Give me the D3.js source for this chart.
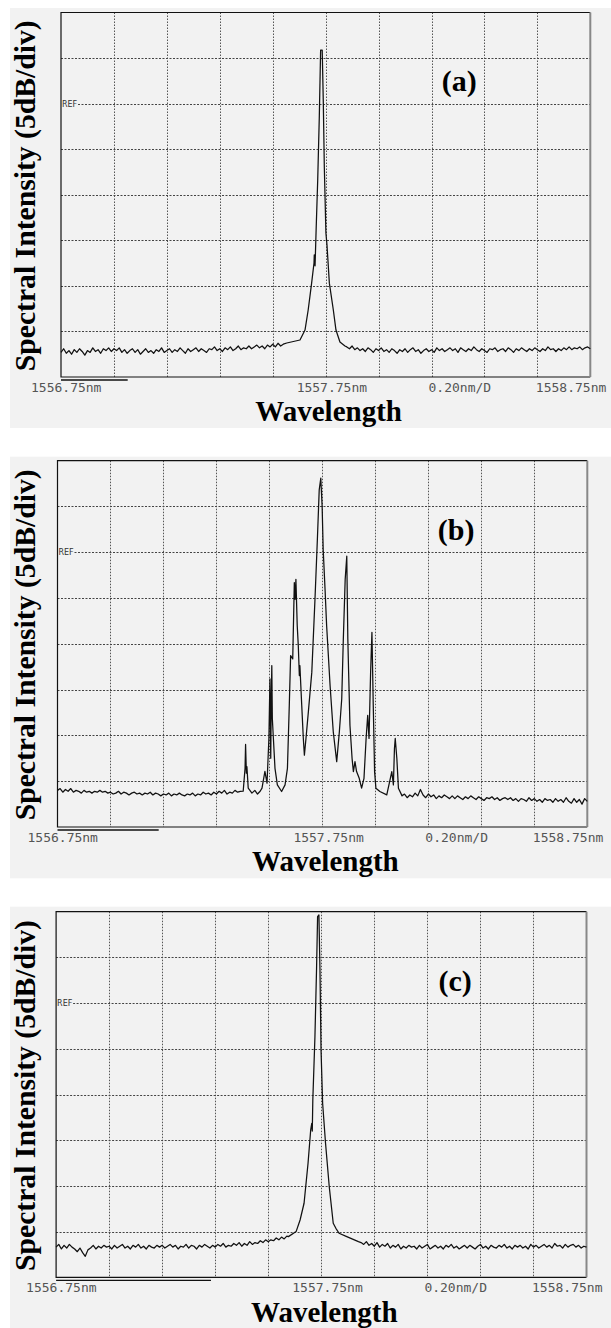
<!DOCTYPE html>
<html>
<head>
<meta charset="utf-8">
<script src="https://cdn.jsdelivr.net/npm/d3@7"></script>
<style>
  body { margin: 0; background: #fff; }
  svg { display: block; }
</style>
</head>
<body>
<div id="chart"></div>
<script>
/* three OSA spectra, stacked (a) (b) (c) */
const width = 611, height = 1328;

// axis setup: 1556.75 -> 1558.75 nm, 0.2 nm/div ; 5 dB/div, REF line = 0 dB
const wlStart = 1556.75, wlEnd = 1558.75, wlDiv = 0.2;
const dbTop = 10, dbBottom = -30, dbDiv = 5;
const panelNames = ["(a)", "(b)", "(c)"];
const xTickLabels = ["1556.75nm", "1557.75nm", "0.20nm/D", "1558.75nm"];
const yLabel = "Spectral Intensity (5dB/div)";
const xLabel = "Wavelength";

// noise floor, sampled every 0.01 nm from 1556.75 (null = covered by the peak trace)
const noiseStep = 0.01;
const aNoise = [
  -27.3,-26.9,-27.4,-27.1,-27.5,-27.0,-27.3,-26.9,-27.2,-27.6,-27.1,-27.3,-26.8,-27.2,-27.0,-27.4,-26.9,-27.1,-26.8,-27.2,
  -26.9,-27.1,-26.8,-27.3,-27.0,-27.4,-27.1,-26.9,-27.3,-27.0,-27.5,-27.2,-26.9,-27.3,-27.1,-27.4,-27.0,-27.2,-26.8,-27.3,
  -27.1,-26.9,-27.3,-27.0,-27.2,-26.8,-27.1,-27.4,-26.9,-27.2,-27.0,-26.8,-27.2,-26.9,-27.1,-27.3,-26.9,-27.0,-26.7,-27.1,
  -26.9,-27.2,-26.8,-27.0,-26.7,-27.1,-26.9,-26.6,-27.0,-26.8,-26.9,-26.6,-26.9,-26.7,-26.5,-26.8,-26.6,-26.9,-26.5,-26.7,
  -26.4,-26.7,-26.3,-26.6,-26.4,
  null,null,null,null,null,null,null,null,null,null,null,null,null,null,null,null,null,null,null,null,null,null,null,
  -26.7,-26.9,-26.6,-27.0,-26.8,-27.1,-26.9,-27.2,-26.8,-27.0,-27.3,-26.9,-27.1,-26.8,-27.2,-27.0,-27.3,-26.9,-27.1,-27.4,
  -27.0,-27.2,-26.9,-27.3,-27.0,-26.8,-27.2,-27.0,-27.4,-27.1,-26.9,-27.2,-27.0,-27.3,-26.8,-27.1,-26.9,-27.2,-27.0,-26.8,
  -27.1,-26.9,-27.3,-26.8,-27.0,-27.2,-26.9,-27.1,-26.7,-27.0,-27.2,-26.9,-27.1,-27.3,-26.9,-27.0,-26.8,-27.2,-27.0,-26.9,
  -27.2,-26.8,-27.0,-27.3,-26.9,-27.1,-26.8,-27.0,-27.2,-26.9,-27.1,-26.8,-27.0,-27.2,-26.9,-27.1,-26.7,-27.0,-26.9,-27.2,
  -26.9,-27.1,-26.8,-27.0,-26.7,-27.0,-26.8,-26.9,-26.7,-27.0,-26.8,-26.7,-26.9
];
const bNoise = [
  -26.0,-25.8,-26.2,-25.9,-26.1,-25.8,-26.2,-26.0,-26.1,-26.3,-26.0,-26.2,-26.1,-26.3,-26.1,-26.2,-26.0,-26.2,-26.1,-26.3,
  -26.2,-26.4,-26.3,-26.1,-26.4,-26.2,-26.3,-26.5,-26.3,-26.2,-26.4,-26.3,-26.5,-26.3,-26.4,-26.2,-26.5,-26.3,-26.4,-26.6,
  -26.4,-26.5,-26.3,-26.6,-26.4,-26.5,-26.3,-26.5,-26.6,-26.4,-26.5,-26.3,-26.6,-26.4,-26.5,-26.2,-26.4,-26.3,-26.5,-26.2,
  -26.4,-26.1,-26.3,-26.0,-26.4,-26.2,-26.3,-26.0,-26.2,-26.1,
  null,null,null,null,null,null,null,null,null,null,null,null,null,null,null,null,null,null,null,null,
  null,null,null,null,null,null,null,null,null,null,null,null,null,null,null,null,null,null,null,null,
  null,null,null,null,null,null,null,null,null,null,null,null,null,null,null,null,null,null,null,null,
  -26.6,-26.4,-26.8,-26.5,-26.7,-26.3,-26.6,-25.9,-26.5,-26.8,-26.4,-26.7,-26.5,-26.9,-26.6,-26.8,-26.5,-26.7,-26.9,-26.6,
  -26.9,-26.6,-26.8,-27.0,-26.7,-26.9,-26.6,-26.8,-27.0,-26.7,-26.9,-27.1,-26.8,-26.9,-26.7,-27.0,-26.8,-27.1,-26.9,-26.8,
  -27.0,-26.8,-27.1,-26.9,-27.2,-26.9,-27.0,-27.2,-26.8,-27.1,-26.9,-27.2,-27.0,-27.3,-26.9,-27.1,-27.0,-27.3,-26.9,-27.2,
  -27.0,-27.3,-26.8,-27.2,-27.4,-26.9,-27.3,-27.0,-27.5,-26.9,-27.2
];
const cNoise = [
  -26.7,-26.4,-26.9,-26.5,-26.8,-26.4,-26.7,-26.9,-27.2,-26.8,-27.3,-27.7,-27.0,-26.8,-26.5,-26.9,-26.6,-26.8,-26.5,-26.7,
  -26.6,-26.9,-26.5,-26.8,-26.6,-26.4,-26.8,-26.6,-26.9,-26.5,-26.7,-26.4,-26.8,-26.6,-26.9,-26.5,-26.7,-26.8,-26.5,-26.7,
  -26.5,-26.8,-26.6,-26.4,-26.7,-26.5,-26.9,-26.6,-26.7,-26.4,-26.8,-26.5,-26.6,-26.9,-26.5,-26.7,-26.4,-26.6,-26.8,-26.5,
  -26.7,-26.4,-26.6,-26.3,-26.7,-26.5,-26.6,-26.3,-26.5,-26.2,-26.6,-26.3,-26.5,-26.1,-26.4,-26.2,-26.3,-26.0,-26.2,-25.9,
  -26.1,-25.9,-26.0,-25.7,-25.9,-25.6,-25.8,-25.5,
  null,null,null,null,null,null,null,null,null,null,null,null,null,null,null,null,null,null,null,null,null,null,null,null,null,null,null,
  -26.2,-26.4,-26.1,-26.5,-26.3,-26.6,-26.2,-26.7,-26.4,-26.6,-26.3,-26.8,-26.5,-26.7,-26.4,-26.9,-26.6,-26.8,-26.5,-26.7,
  -26.6,-26.9,-26.5,-26.8,-26.6,-26.4,-26.9,-26.7,-26.5,-26.8,-26.6,-26.9,-26.5,-26.7,-26.4,-26.8,-26.6,-26.9,-26.7,-26.5,
  -26.8,-26.5,-26.7,-26.9,-26.6,-26.4,-26.8,-26.6,-26.9,-26.5,-26.7,-26.8,-26.5,-26.7,-26.4,-26.8,-26.6,-26.9,-26.5,-26.7,
  -26.5,-26.8,-26.6,-26.9,-26.4,-26.7,-26.5,-26.8,-26.6,-26.4,-26.7,-26.5,-26.8,-26.3,-26.6,-26.5,-26.8,-26.4,-26.7,-26.5,
  -26.4,-26.7,-26.5,-26.8,-26.6,-26.7
];

// peak traces (nm, dB)
const aPeakNm = [1557.603,1557.653,1557.672,1557.684,1557.697,1557.706,1557.707,1557.710,1557.714,1557.720,1557.726,
  1557.731,1557.737,1557.741,1557.745,1557.751,1557.755,1557.764,1557.779,1557.789,1557.804,1557.823];
const aPeakDb = [-26.27,-25.94,-24.85,-22.65,-19.69,-17.49,-16.61,-17.8,-13.87,-8.38,-1.46,
  5.88,5.88,0.39,-6.96,-14.2,-15.5,-19.7,-22.65,-24.85,-26.16,-26.6];

const bPeakNm = [1557.451,1557.458,1557.460,1557.463,1557.465,1557.470,1557.484,1557.495,1557.505,1557.515,
  1557.522,1557.533,1557.541,1557.548,1557.552,1557.555,1557.557,1557.559,1557.561,1557.565,1557.571,1557.580,
  1557.596,1557.609,1557.618,1557.625,1557.630,1557.638,1557.644,1557.647,1557.650,1557.655,1557.659,1557.663,
  1557.665,1557.672,1557.678,1557.682,1557.688,1557.697,1557.710,1557.722,1557.731,1557.738,1557.744,1557.749,
  1557.753,1557.760,1557.766,1557.779,1557.791,1557.804,1557.814,1557.823,1557.829,1557.836,1557.842,1557.846,
  1557.849,1557.854,1557.862,1557.867,1557.873,1557.879,1557.889,1557.898,1557.907,1557.915,1557.921,1557.926,
  1557.932,1557.937,1557.942,1557.947,1557.952,1557.967,1557.993,1558.012,1558.018,1558.022,1558.025,1558.031,
  1558.037,1558.049];
const bPeakDb = [-26.09,-23.59,-20.98,-24.13,-23.4,-25.76,-26.3,-26.0,-26.4,-26.1,
  -25.76,-23.92,-25.22,-20.33,-13.82,-22.5,-16.0,-12.37,-18.16,-20.33,-23.59,-25.4,
  -26.12,-25.4,-23.59,-16.72,-11.29,-11.64,-3.31,-5.13,-2.96,-8.03,-10.2,-13.46,
  -12.37,-16.72,-20.33,-22.15,-20.33,-17.43,-13.09,-5.13,1.39,6.82,8.09,5.0,
  0.3,-4.04,-8.03,-14.54,-19.6,-22.86,-19.6,-15.99,-9.47,-2.96,-0.43,-9.47,
  -13.09,-18.89,-22.5,-23.95,-22.86,-23.95,-24.68,-25.76,-24.68,-20.33,-17.8,-20.33,
  -13.09,-8.74,-16.72,-23.95,-25.76,-26.12,-26.49,-23.95,-25.4,-21.42,-20.33,-22.5,
  -25.76,-26.49];

const cPeakNm = [1557.626,1557.655,1557.670,1557.685,1557.700,1557.710,1557.714,1557.716,1557.718,1557.726,
  1557.732,1557.736,1557.741,1557.745,1557.749,1557.755,1557.766,1557.780,1557.795,1557.805,1557.817,1557.846,1557.890];
const cPeakDb = [-25.55,-25.0,-23.73,-21.9,-17.52,-13.88,-13.15,-14.0,-10.6,-3.68,
  3.62,9.45,9.64,3.62,-5.13,-10.96,-15.34,-20.09,-24.09,-24.64,-25.18,-25.55,-26.1];

// end of the short bar drawn under each frame
const barEnd = [1557.002, 1557.132, 1557.334];

const noiseSets = [aNoise, bNoise, cNoise];
const peakNm = [aPeakNm, bPeakNm, cPeakNm];
const peakDb = [aPeakDb, bPeakDb, cPeakDb];

// layout of each panel on the page
const panels = [
  { bgTop: 8,     bgBottom: 428,  left: 61,   right: 590.3, top: 12.5,  bottom: 377 },
  { bgTop: 456.7, bgBottom: 878.3, left: 57.5, right: 587.3, top: 460.7, bottom: 827 },
  { bgTop: 906.7, bgBottom: 1328, left: 56.1, right: 586.5, top: 911.7, bottom: 1277.3 }
];

const svg = d3.select("#chart")
  .append("svg")
  .attr("width", width)
  .attr("height", height)
  .attr("viewBox", [0, 0, width, height]);

panels.forEach((p, k) => {
  const g = svg.append("g");

  // gray screen background
  g.append("rect")
    .attr("x", 10).attr("y", p.bgTop)
    .attr("width", width - 10).attr("height", p.bgBottom - p.bgTop)
    .attr("fill", "#f2f2f2");

  const x = d3.scaleLinear().domain([wlStart, wlEnd]).range([p.left, p.right]);
  const y = d3.scaleLinear().domain([dbBottom, dbTop]).range([p.bottom, p.top]);

  const xGrid = d3.range(1, 10).map(i => wlStart + i * wlDiv);
  const yGrid = d3.range(1, 8).map(i => dbBottom + i * dbDiv);

  // dotted grid
  g.append("g").selectAll("line").data(xGrid).join("line")
    .attr("x1", d => Math.round(x(d)) + 0.5).attr("x2", d => Math.round(x(d)) + 0.5)
    .attr("y1", p.top).attr("y2", p.bottom)
    .attr("stroke", "#555").attr("stroke-width", 1)
    .attr("stroke-dasharray", "1.5,1.5");

  g.append("g").selectAll("line").data(yGrid).join("line")
    .attr("x1", d => d === 0 ? p.left + 17 : p.left).attr("x2", p.right)
    .attr("y1", d => Math.round(y(d)) + 0.5).attr("y2", d => Math.round(y(d)) + 0.5)
    .attr("stroke", "#444").attr("stroke-width", 1)
    .attr("stroke-dasharray", "2,1.5");

  g.append("text")
    .attr("x", p.left + 1).attr("y", y(0) + 3)
    .attr("font-family", "DejaVu Sans").attr("font-size", 8)
    .attr("fill", "#333")
    .text("REF");

  // frame
  g.append("path")
    .attr("d", `M${p.right},${p.top}H${p.left}V${p.bottom}H${p.right}`)
    .attr("fill", "none").attr("stroke", "#111").attr("stroke-width", 1.2);
  g.append("line")
    .attr("x1", p.right).attr("x2", p.right).attr("y1", p.top).attr("y2", p.bottom)
    .attr("stroke", "#888").attr("stroke-width", 2);
  g.append("line")
    .attr("x1", x(wlStart)).attr("x2", x(barEnd[k]))
    .attr("y1", p.bottom + 3).attr("y2", p.bottom + 3)
    .attr("stroke", "#111").attr("stroke-width", 1.3);

  // spectrum
  const noise = noiseSets[k]
    .map((v, i) => [wlStart + i * noiseStep, v])
    .filter(d => d[1] !== null);
  const peak = peakNm[k].map((n, i) => [n, peakDb[k][i]]);
  const data = noise.concat(peak).sort((a, b) => a[0] - b[0]);

  const line = d3.line()
    .x(d => x(d[0]))
    .y(d => y(d[1]));

  g.append("path")
    .datum(data)
    .attr("d", line)
    .attr("fill", "none")
    .attr("stroke", "#111")
    .attr("stroke-width", 1.25)
    .attr("stroke-linejoin", "round");

  // tick labels of the analyser screen
  const tickPos = [
    { x: x(wlStart) - 30, anchor: "start" },
    { x: x(wlStart + 5 * wlDiv) - 29, anchor: "start" },
    { x: x(wlStart + 7 * wlDiv) - 3, anchor: "start" },
    { x: x(wlEnd) + 16, anchor: "end" }
  ];
  xTickLabels.forEach((t, i) => {
    g.append("text")
      .attr("x", tickPos[i].x).attr("y", p.bottom + 15)
      .attr("text-anchor", tickPos[i].anchor)
      .attr("font-family", "DejaVu Sans Mono").attr("font-size", 13)
      .attr("fill", "#555")
      .text(t);
  });

  // axis titles
  g.append("text")
    .attr("x", (p.left + p.right) / 2 + 3).attr("y", p.bottom + 44.3)
    .attr("text-anchor", "middle")
    .attr("font-family", "Liberation Serif").attr("font-weight", "bold")
    .attr("font-size", 29).attr("fill", "#000")
    .text(xLabel);

  g.append("text")
    .attr("transform", `translate(35,${(p.top + p.bottom) / 2 + 1}) rotate(-90)`)
    .attr("text-anchor", "middle")
    .attr("font-family", "Liberation Serif").attr("font-weight", "bold")
    .attr("font-size", 30).attr("fill", "#000")
    .attr("textLength", 351).attr("lengthAdjust", "spacingAndGlyphs")
    .text(yLabel);

  // panel letter
  g.append("text")
    .attr("x", x(1558.255)).attr("y", y(2.25) + 8)
    .attr("text-anchor", "middle")
    .attr("font-family", "Liberation Serif").attr("font-weight", "bold")
    .attr("font-size", 30).attr("fill", "#000")
    .text(panelNames[k]);
});
</script>
</body>
</html>
